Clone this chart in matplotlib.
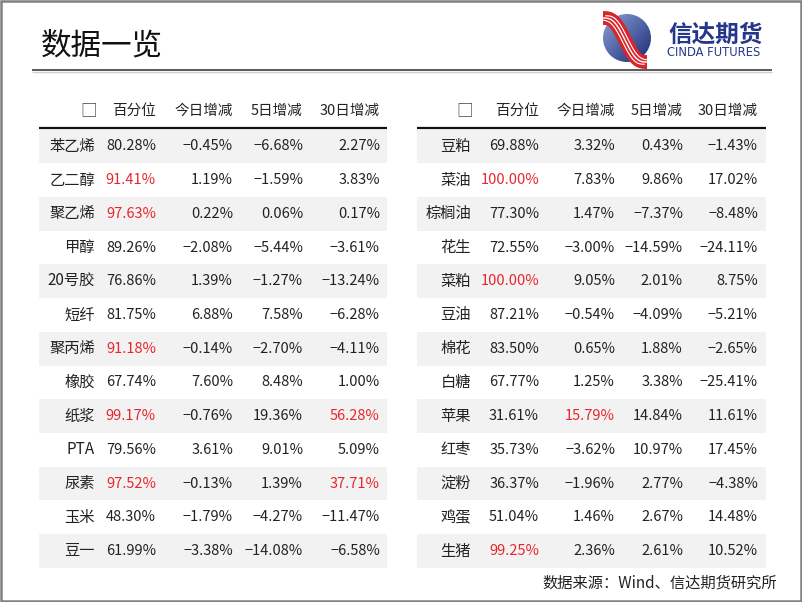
import numpy as np
import matplotlib

matplotlib.use("Agg")
import matplotlib.pyplot as plt
from matplotlib.patches import Rectangle, Circle

plt.rcParams["font.family"] = ["Noto Sans CJK SC", "DejaVu Sans"]

# ---- data ----
headers = ["百分位", "今日增减", "5日增减", "30日增减"]

names_l = ["苯乙烯", "乙二醇", "聚乙烯", "甲醇", "20号胶", "短纤", "聚丙烯",
           "橡胶", "纸浆", "PTA", "尿素", "玉米", "豆一"]
pct_l = [80.28, 91.41, 97.63, 89.26, 76.86, 81.75, 91.18, 67.74, 99.17, 79.56, 97.52, 48.30, 61.99]
d1_l = [-0.45, 1.19, 0.22, -2.08, 1.39, 6.88, -0.14, 7.60, -0.76, 3.61, -0.13, -1.79, -3.38]
d5_l = [-6.68, -1.59, 0.06, -5.44, -1.27, 7.58, -2.70, 8.48, 19.36, 9.01, 1.39, -4.27, -14.08]
d30_l = [2.27, 3.83, 0.17, -3.61, -13.24, -6.28, -4.11, 1.00, 56.28, 5.09, 37.71, -11.47, -6.58]

names_r = ["豆粕", "菜油", "棕榈油", "花生", "菜粕", "豆油", "棉花",
           "白糖", "苹果", "红枣", "淀粉", "鸡蛋", "生猪"]
pct_r = [69.88, 100.00, 77.30, 72.55, 100.00, 87.21, 83.50, 67.77, 31.61, 35.73, 36.37, 51.04, 99.25]
d1_r = [3.32, 7.83, 1.47, -3.00, 9.05, -0.54, 0.65, 1.25, 15.79, -3.62, -1.96, 1.46, 2.36]
d5_r = [0.43, 9.86, -7.37, -14.59, 2.01, -4.09, 1.88, 3.38, 14.84, 10.97, 2.77, 2.67, 2.61]
d30_r = [-1.43, 17.02, -8.48, -24.11, 8.75, -5.21, -2.65, -25.41, 11.61, 17.45, -4.38, 14.48, 10.52]

# highlight thresholds (red text) per column
red_at = [90.0, 10.0, 20.0, 20.0]

RED = "#e8262d"
INK = "#222222"
SHADE = "#f2f2f2"


def fmt(v):
    s = f"{abs(v):.2f}%"
    return ("\u2212" if v < 0 else "") + s


def draw_table(ax, x0, x1, name_right, col_right, names, cols):
    row_h = 33.7
    y_head = 111
    y_first = 146.5
    # header
    ax.text(name_right - 6, y_head, "□", ha="center", va="center", fontsize=12, color="#444444")
    for xr, h in zip(col_right, headers):
        ax.text(xr, y_head, h, ha="right", va="center", fontsize=10.5, color=INK)
    ax.plot([x0, x1], [128, 128], color="#111111", lw=1.6, solid_capstyle="butt")
    for i, name in enumerate(names):
        yc = y_first + i * row_h
        if i % 2 == 0:
            ax.add_patch(Rectangle((x0, yc - row_h / 2), x1 - x0, row_h,
                                   facecolor=SHADE, edgecolor="none", zorder=0))
        ax.text(name_right, yc, name, ha="right", va="center", fontsize=11, color=INK)
        for j, (xr, col) in enumerate(zip(col_right, cols)):
            v = col[i]
            c = RED if v >= red_at[j] else INK
            ax.text(xr, yc, fmt(v), ha="right", va="center", fontsize=10.5, color=c)


def draw_logo(ax):
    cx, cy, r = 627, 38, 24
    # blue gradient disc
    n = 200
    gx, gy = np.meshgrid(np.linspace(-1, 1, n), np.linspace(-1, 1, n))
    t = np.clip((gx + gy) / 2.0 * 0.5 + 0.5, 0, 1)
    light = np.array([0.55, 0.64, 0.85])
    dark = np.array([0.10, 0.16, 0.45])
    img = light[None, None, :] * (1 - t[..., None]) + dark[None, None, :] * t[..., None]
    im = ax.imshow(img, extent=(cx - r, cx + r, cy + r, cy - r), zorder=2, interpolation="bilinear")
    clip = Circle((cx, cy), r, transform=ax.transData)
    im.set_clip_path(clip)
    # red ribbon
    s = np.linspace(0, 1, 100)
    for k, (off, col, lw) in enumerate([(0, "#d7262b", 10), (0, "white", 1.0),
                                        (-3.2, "white", 0.8), (3.2, "white", 0.8)]):
        xs = cx - 24 + 44 * s + off * 0.7
        ys = cy - 20 + 44 * s - 7 * np.sin(2 * np.pi * s) + off * -0.7
        ax.plot(xs, ys, color=col, lw=lw, zorder=3 + k * 0.1, solid_capstyle="butt")
    ax.text(668, 35, "信达期货", ha="left", va="center", fontsize=17, fontweight="bold",
            color="#24378a")
    ax.text(667, 53, "CINDA FUTURES", ha="left", va="center", fontsize=8.3,
            color="#24378a", family=["Liberation Sans Narrow", "DejaVu Sans"])


fig = plt.figure(figsize=(8.02, 6.02), dpi=100)
ax = fig.add_axes([0, 0, 1, 1])
ax.set_xlim(0, 802)
ax.set_ylim(602, 0)
ax.axis("off")

# page frame
ax.add_patch(Rectangle((1, 1), 800, 600, facecolor="none", edgecolor="#808080", lw=1.8, zorder=10))

# title and rule
ax.text(41, 46, "数据一览", ha="left", va="center", fontsize=22, fontweight="light", color="#111111")
ax.plot([32, 772], [70, 70], color="#5a5a5a", lw=1.4, solid_capstyle="butt")
ax.plot([32, 772], [72, 72], color="#cfcfcf", lw=1.0, solid_capstyle="butt")

draw_logo(ax)

draw_table(ax, 39, 387, 95, [156, 233, 303, 380], names_l, [pct_l, d1_l, d5_l, d30_l])
draw_table(ax, 417, 766, 471, [539, 615, 683, 758], names_r, [pct_r, d1_r, d5_r, d30_r])

ax.text(777, 583, "数据来源：Wind、信达期货研究所", ha="right", va="center", fontsize=11, color=INK)

fig.savefig("out.png", dpi=100)
